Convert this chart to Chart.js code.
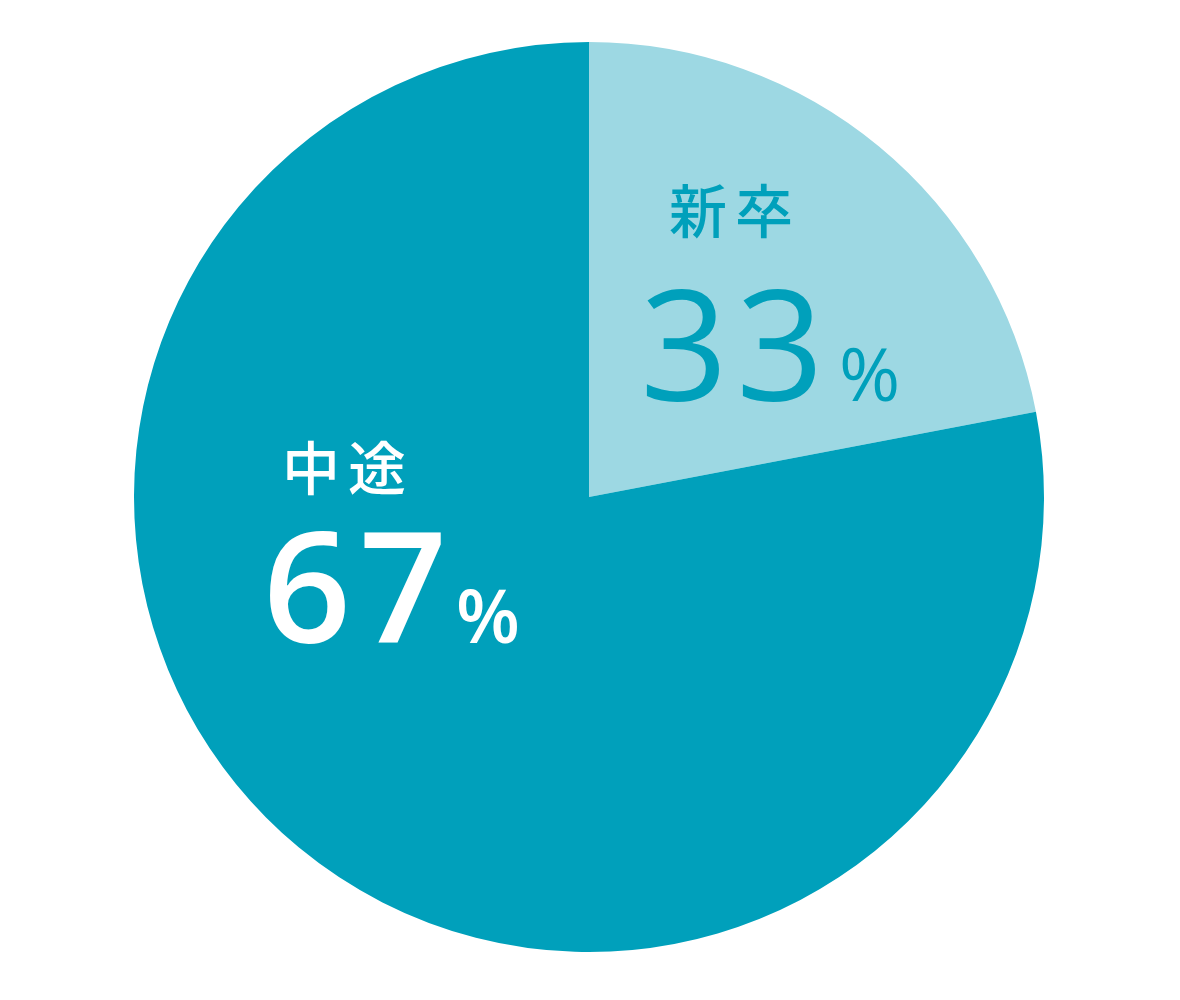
<!DOCTYPE html>
<html>
<head>
    <meta charset="utf-8">
    <title>新卒・中途 比率</title>
    <script src="https://cdn.jsdelivr.net/npm/chart.js"></script>
    <style>
        body { margin: 0; background: #ffffff; }
        #wrap { width: 1180px; height: 1000px; }
    </style>
</head>
<body>
    <div id="wrap">
        <canvas id="ratioChart" width="1180" height="1000"></canvas>
    </div>

    <script>
        // categories and values
        const categories = ['新卒', '中途'];
        // slice shares as drawn in the picture (the 新卒 wedge spans ~79°)
        const sliceShare = [22, 78];
        // percentages printed on the slices
        const percentLabels = [33, 67];
        const sliceColors = ['#9dd8e3', '#00a0bb'];
        const textColors = ['#00a0bb', '#ffffff'];

        // label placement, px offsets from the pie centre
        const labelSpots = [
            { name: [146, -286], num: [51, -96], pct: [250, -96] },
            { name: [-241, -29], num: [-326, 146], pct: [-133, 146] }
        ];

        const sliceLabels = {
            id: 'sliceLabels',
            afterDatasetsDraw(chart) {
                const ctx = chart.ctx;
                const arc = chart.getDatasetMeta(0).data[0];
                const cx = arc.x, cy = arc.y;

                categories.forEach((cat, i) => {
                    const spot = labelSpots[i];
                    ctx.save();
                    ctx.fillStyle = textColors[i];

                    // category name
                    ctx.font = '500 58px "Noto Sans CJK JP"';
                    ctx.letterSpacing = '8px';
                    ctx.textAlign = 'center';
                    ctx.textBaseline = 'middle';
                    ctx.fillText(cat, cx + spot.name[0], cy + spot.name[1]);

                    // big number
                    ctx.font = (i === 0 ? '500' : '600') + ' 154px "Open Sans"';
                    ctx.letterSpacing = '8px';
                    ctx.textAlign = 'left';
                    ctx.textBaseline = 'alphabetic';
                    ctx.fillText(String(percentLabels[i]), cx + spot.num[0], cy + spot.num[1]);

                    // percent sign
                    ctx.font = (i === 0 ? '500' : '600') + ' 74px "Open Sans"';
                    ctx.letterSpacing = '0px';
                    ctx.fillText('%', cx + spot.pct[0], cy + spot.pct[1]);
                    ctx.restore();
                });
            }
        };

        new Chart(document.getElementById('ratioChart'), {
            type: 'pie',
            data: {
                labels: categories,
                datasets: [{
                    data: sliceShare,
                    backgroundColor: sliceColors,
                    borderWidth: 0,
                    hoverOffset: 0
                }]
            },
            options: {
                responsive: false,
                animation: false,
                layout: {
                    padding: { top: 42, bottom: 48, left: 0, right: 2 }
                },
                plugins: {
                    legend: { display: false },
                    tooltip: { enabled: false }
                }
            },
            plugins: [sliceLabels]
        });
    </script>
</body>
</html>
